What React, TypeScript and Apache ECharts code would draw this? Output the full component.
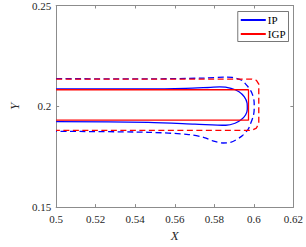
import React, { useEffect, useRef } from "react";
import * as echarts from "echarts";

const xTicks = [0.5, 0.52, 0.54, 0.56, 0.58, 0.6, 0.62];
const yTicks = [0.15, 0.2, 0.25];

const ipSolid: [number, number][] = [
  [0.5, 0.2086], [0.5466, 0.2086], [0.5655, 0.2089], [0.5781, 0.2094], [0.5828, 0.2096],
  [0.5885, 0.2089], [0.5925, 0.2072], [0.5952, 0.2047], [0.5966, 0.2015], [0.5967, 0.1985],
  [0.5958, 0.1957], [0.5937, 0.1935], [0.5905, 0.1916], [0.5858, 0.1906], [0.5702, 0.1912],
  [0.5466, 0.192], [0.5, 0.1924],
];
const igpSolid: [number, number][] = [
  [0.5, 0.2082], [0.5973, 0.2082], [0.5973, 0.1931], [0.5, 0.1931],
];
const ipDashed: [number, number][] = [
  [0.5, 0.2137], [0.5466, 0.2136], [0.5749, 0.214], [0.5858, 0.2145], [0.5891, 0.2143],
  [0.5939, 0.2129], [0.597, 0.2097], [0.5991, 0.2064], [0.6001, 0.2026], [0.6002, 0.1993],
  [0.5998, 0.1955], [0.5978, 0.19], [0.597, 0.1884], [0.5939, 0.1852], [0.5882, 0.1821],
  [0.5844, 0.1818], [0.5797, 0.1827], [0.5749, 0.1845], [0.567, 0.186], [0.5466, 0.1871],
  [0.5, 0.1876],
];
const igpDashed: [number, number][] = [
  [0.5, 0.2135], [0.599, 0.2135], [0.6013, 0.2129], [0.6025, 0.211], [0.6025, 0.1915],
  [0.6013, 0.1892], [0.599, 0.1881], [0.5, 0.1881],
];

const BLUE = "#0000ff";
const RED = "#ff0000";
const FONT = "'Liberation Serif', 'DejaVu Serif', serif";

const fmt = (v: number) => String(parseFloat(v.toFixed(2)));

export default function App() {
  const ref = useRef<HTMLDivElement>(null);
  useEffect(() => {
    if (!ref.current) return;
    const chart = echarts.init(ref.current, undefined, { renderer: "svg" });
    const axisLine = { show: true, lineStyle: { color: "#8c8c8c", width: 1 } };
    const axisTick = { show: true, inside: true, length: 3, lineStyle: { color: "#8c8c8c" } };
    const label = { color: "#262626", fontFamily: FONT, fontSize: 11 };
    chart.setOption({
      animation: false,
      grid: { left: 41.5, right: 10.7, top: 5, bottom: 31, containLabel: false },
      legend: {
        data: ["IP", "IGP"],
        orient: "vertical",
        right: 17.5,
        top: 11.5,
        backgroundColor: "#fff",
        borderColor: "#555",
        borderWidth: 0.8,
        padding: [3, 3, 2, 3],
        itemGap: 3,
        itemWidth: 25,
        itemHeight: 2,
        icon: "rect",
        textStyle: { fontFamily: FONT, fontSize: 11, color: "#000", padding: [0, 0, 0, -3] },
      },
      xAxis: [
        {
          type: "value", min: 0.5, max: 0.62, interval: 0.02, position: "bottom",
          axisLine, axisTick, splitLine: { show: false },
          axisLabel: { ...label, formatter: fmt, margin: 6 },
          name: "X", nameLocation: "middle", nameGap: 21,
          nameTextStyle: { fontFamily: FONT, fontSize: 13, fontStyle: "italic", color: "#262626" },
        },
        {
          type: "value", min: 0.5, max: 0.62, interval: 0.02, position: "top",
          axisLine, axisTick, splitLine: { show: false }, axisLabel: { show: false },
        },
      ],
      yAxis: [
        {
          type: "value", min: 0.15, max: 0.25, interval: 0.05, position: "left",
          axisLine, axisTick, splitLine: { show: false },
          axisLabel: { ...label, formatter: fmt, margin: 5 },
          name: "Y", nameLocation: "middle", nameGap: 32, nameRotate: 90,
          nameTextStyle: { fontFamily: FONT, fontSize: 13, fontStyle: "italic", color: "#262626" },
        },
        {
          type: "value", min: 0.15, max: 0.25, interval: 0.05, position: "right",
          axisLine, axisTick, splitLine: { show: false }, axisLabel: { show: false },
        },
      ],
      series: [
        {
          name: "IP-dashed", type: "line", data: ipDashed, showSymbol: false, smooth: 0.3,
          lineStyle: { color: BLUE, width: 1.3, type: [6, 3.5] }, itemStyle: { color: BLUE },
        },
        {
          name: "IGP-dashed", type: "line", data: igpDashed, showSymbol: false, smooth: false,
          lineStyle: { color: RED, width: 1.3, type: [6, 3.5] }, itemStyle: { color: RED },
        },
        {
          name: "IP", type: "line", data: ipSolid, showSymbol: false, smooth: 0.3,
          lineStyle: { color: BLUE, width: 1.3 }, itemStyle: { color: BLUE },
        },
        {
          name: "IGP", type: "line", data: igpSolid, showSymbol: false, smooth: false,
          lineStyle: { color: RED, width: 1.3 }, itemStyle: { color: RED },
        },
      ],
    });
    return () => chart.dispose();
  }, []);
  return <div ref={ref} style={{ width: 306, height: 247, position: "absolute", left: 0, top: 0 }} />;
}
